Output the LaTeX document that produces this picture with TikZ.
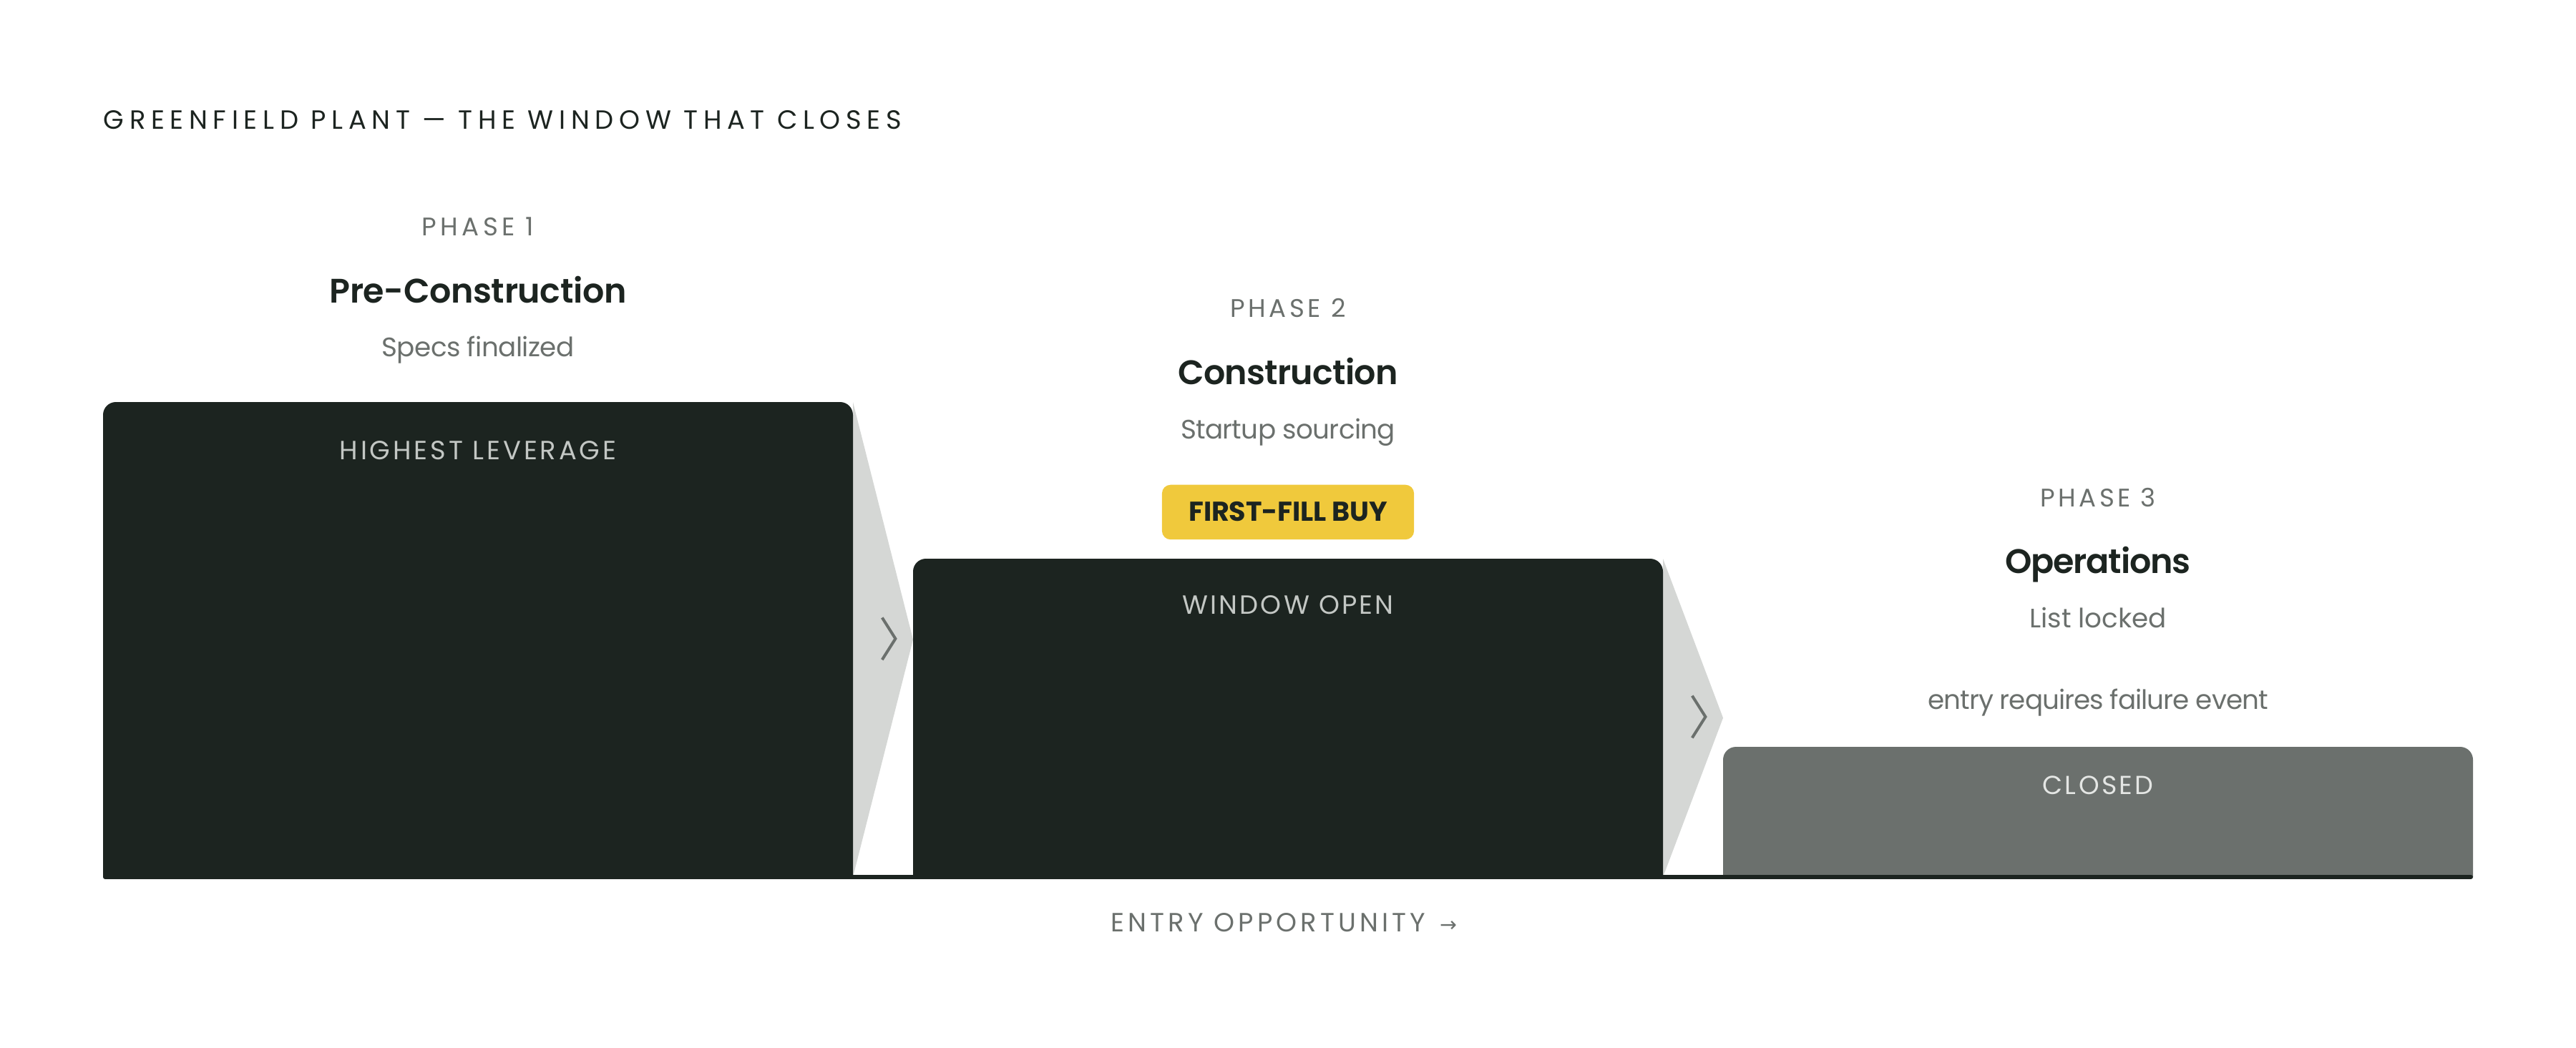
\documentclass[tikz,border=0pt]{standalone}
\usepackage{fontspec}
\setmainfont{Poppins}[BoldFont={Poppins SemiBold}]
\newfontfamily\badgefont{Poppins Bold}
\newfontfamily\arrowfont{DejaVu Sans}
\definecolor{ink}{HTML}{1C2420}
\definecolor{mute}{HTML}{6B706D}
\definecolor{wedgegray}{HTML}{D5D7D5}
\definecolor{closedgray}{HTML}{6B706D}
\definecolor{lbl}{HTML}{C3C7C4}
\definecolor{lblc}{HTML}{E4E6E4}
\definecolor{badgeyellow}{HTML}{F0C93C}
\newlength\fitwA
\newlength\fitwB
% #1 font switch, #2 cap height, #3 target width, #4 text
\newcommand\fitline[4]{%
  \pgfmathsetmacro\fitsz{#2/0.70}%
  \fontsize{\fitsz pt}{\fitsz pt}\selectfont#1%
  \settowidth\fitwA{#4}%
  \settowidth\fitwB{\addfontfeature{LetterSpace=10}#4}%
  \pgfmathsetmacro\fitL{10*(#3-\fitwA)/(\fitwB-\fitwA)}%
  \edef\fittmp{\noexpand\addfontfeature{LetterSpace=\fitL}}\fittmp #4}
\newcommand\phasebar[4]{%
  \fill[#4] (#1,408.67) -- (#1,#3+6) arc[start angle=180,end angle=270,radius=6]
    -- (#2-6,#3) arc[start angle=270,end angle=360,radius=6] -- (#2,408.67) -- cycle;}
\newcommand\chevron[2]{%
  \draw[chev] (#1+13.6,#2-9.8) -- (#1+19.8,#2) -- (#1+13.6,#2+9.8);}
\tikzset{
  lab/.style={inner sep=0pt, outer sep=0pt, anchor=base},
  phaselab/.style={lab, text=mute},
  headlab/.style={lab, text=ink},
  sublab/.style={lab, text=mute},
  barlab/.style={lab, text=lbl},
  chev/.style={draw=mute, line width=1.33pt, line join=miter},
  badgebox/.style={fill=badgeyellow, rounded corners=4pt, minimum width=117.4pt,
    minimum height=25.5pt, inner sep=0pt, draw=none},
}
\begin{document}
\begin{tikzpicture}[x=1pt,y=-1pt]
\useasboundingbox (0,0) rectangle (1200,488);
\fill[white] (0,0) rectangle (1200,488);
% wedges
\fill[wedgegray] (397.33,187.33) -- (425.33,298) -- (397.33,408.67) -- cycle;
\fill[wedgegray] (774.67,260.33) -- (802.67,334.5) -- (774.67,408.67) -- cycle;
\chevron{397.33}{297.6}
\chevron{774.67}{334}
% bars
\phasebar{48}{397.33}{187.33}{ink}
\phasebar{425.33}{774.67}{260.33}{ink}
\phasebar{802.67}{1152}{348}{closedgray}
% axis
\coordinate (axisL) at (49,408.67);
\coordinate (axisR) at (1151,408.67);
\draw[ink, line width=2pt, line cap=round] (axisL) -- (axisR);
% title
\node[lab, anchor=base west, text=ink] (title) at (48.3,60.3)
  {\fitline{}{8.6}{371.7}{GREENFIELD PLANT — THE WINDOW THAT CLOSES}};
% phase 1
\node[phaselab] (ph1) at (222.67,109.9) {\fitline{}{8.3}{52.1}{PHASE 1}};
\node[headlab] (hd1) at (222.67,141.1) {\fitline{\bfseries}{11.1}{138.4}{Pre-Construction}};
\node[sublab] (sb1) at (222.67,166) {\fitline{}{8.7}{89.6}{Specs finalized}};
\node[barlab] (bl1) at (222.67,214.2) {\fitline{}{8.6}{128.9}{HIGHEST LEVERAGE}};
% phase 2
\node[phaselab] (ph2) at (600,147.8) {\fitline{}{8.3}{53.7}{PHASE 2}};
\node[headlab] (hd2) at (600,179) {\fitline{\bfseries}{11.1}{102.3}{Construction}};
\node[sublab] (sb2) at (600,204.4) {\fitline{}{8.7}{100}{Startup sourcing}};
\node[badgebox] (badge) at (600,238.65) {};
\node[headlab] (badgetext) at (600,242.8) {\fitline{\badgefont}{8.9}{92.4}{FIRST-FILL BUY}};
\node[barlab] (bl2) at (600,286.3) {\fitline{}{8.6}{98.5}{WINDOW OPEN}};
% phase 3
\node[phaselab] (ph3) at (977.33,236) {\fitline{}{8.3}{53.9}{PHASE 3}};
\node[headlab] (hd3) at (977.33,267.3) {\fitline{\bfseries}{11.1}{86.5}{Operations}};
\node[sublab] (sb3) at (977.33,292.6) {\fitline{}{8.7}{63.8}{List locked}};
\node[sublab] (note3) at (977.33,330.5) {\fitline{}{8.7}{158.4}{entry requires failure event}};
\node[lab, text=lblc] (bl3) at (977.33,370.2) {\fitline{}{8.5}{51.7}{CLOSED}};
% axis label
\node[lab, anchor=base west, text=mute] (entry) at (517.6,434.2)
  {\fitline{}{8.6}{146.5}{ENTRY OPPORTUNITY}};
\node[lab, anchor=base west, text=mute] (entryarrow) at (670.8,434.2)
  {\fontsize{9.5pt}{9.5pt}\selectfont\arrowfont →};
\end{tikzpicture}
\end{document}
